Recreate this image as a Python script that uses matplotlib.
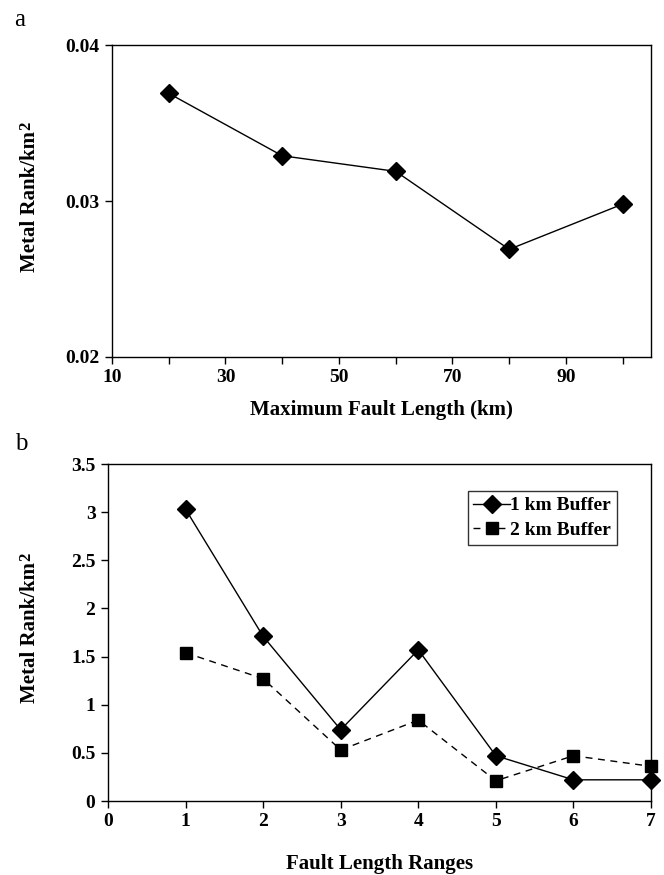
import matplotlib
matplotlib.use("Agg")
import matplotlib.pyplot as plt
from matplotlib.ticker import MultipleLocator, FixedLocator

# data
max_len = [20, 40, 60, 80, 100]
rank_a = [0.0369, 0.0329, 0.0319, 0.0269, 0.0298]

ranges = [1, 2, 3, 4, 5, 6, 7]
buf1 = [3.03, 1.71, 0.74, 1.57, 0.47, 0.22, 0.22]
buf2 = [1.54, 1.27, 0.53, 0.84, 0.21, 0.47, 0.36]

plt.rcParams["font.family"] = ["Liberation Serif", "DejaVu Serif"]
plt.rcParams["font.weight"] = "bold"

W, H = 664, 875
fig = plt.figure(figsize=(W / 100, H / 100), dpi=100)
ax1 = fig.add_axes([112 / W, 1 - 357 / H, 539 / W, 312 / H])
ax2 = fig.add_axes([108 / W, 1 - 801 / H, 543 / W, 337 / H])

# panel a
ax1.plot(max_len, rank_a, color="black", lw=1, marker="D", ms=9.5, mfc="black", clip_on=False)
ax1.set_xlim(10, 105)
ax1.set_ylim(0.02, 0.04)
ax1.xaxis.set_major_locator(FixedLocator([10, 30, 50, 70, 90]))
ax1.xaxis.set_minor_locator(FixedLocator([20, 40, 60, 80, 100]))
ax1.set_yticks([0.02, 0.03, 0.04])
ax1.set_yticklabels(["0.02", "0.03", "0.04"])
ax1.set_xlabel("Maximum Fault Length (km)", fontsize=15, fontweight="bold", labelpad=10)

# panel b
ax2.plot(ranges, buf1, color="black", lw=1, marker="D", ms=9.5, mfc="black",
         label="1 km Buffer", clip_on=False)
ax2.plot(ranges, buf2, color="black", lw=1, ls=(0, (5, 4)), marker="s", ms=8.5, mfc="black",
         label="2 km Buffer", clip_on=False)
ax2.set_xlim(0, 7)
ax2.set_ylim(0, 3.5)
ax2.xaxis.set_major_locator(MultipleLocator(1))
ax2.set_yticks([0, 0.5, 1, 1.5, 2, 2.5, 3, 3.5])
ax2.set_yticklabels(["0", "0.5", "1", "1.5", "2", "2.5", "3", "3.5"])
ax2.set_xlabel("Fault Length Ranges", fontsize=15, fontweight="bold", labelpad=17)
leg = ax2.legend(loc="upper right", bbox_to_anchor=((617 - 108) / 543, (801 - 491) / 337),
                 fontsize=14, frameon=True, fancybox=False, edgecolor="black",
                 handlelength=1.9, handletextpad=0.0, borderpad=0.3, labelspacing=0.35,
                 borderaxespad=0)
leg.get_frame().set_linewidth(1)

for ax in (ax1, ax2):
    for s in ax.spines.values():
        s.set_linewidth(1)
    ax.tick_params(which="both", direction="out", length=5, width=1, labelsize=14,
                   top=False, right=False, pad=4)
    for t in ax.get_xticklabels() + ax.get_yticklabels():
        t.set_fontweight("bold")
    ax.set_ylabel("Metal Rank/km", fontsize=15, fontweight="bold")

ax1.yaxis.set_label_coords((40 - 112) / 539, 0.5)
ax2.yaxis.set_label_coords((40 - 108) / 543, 0.5)

# superscript 2 at the end of the y labels, drawn as big as in the original
fig.canvas.draw()
for ax in (ax1, ax2):
    bb = ax.yaxis.label.get_window_extent()
    fig.text((bb.x0 - 2) / W, (bb.y1 + 1) / H, "2", rotation=90, ha="left", va="bottom",
             fontsize=12, fontweight="bold")

fig.text(0.022, 0.977, "a", fontsize=18, fontweight="normal", va="center")
fig.text(0.022, 0.492, "b", fontsize=18, fontweight="normal", va="center")

fig.savefig("out.png", dpi=100)
